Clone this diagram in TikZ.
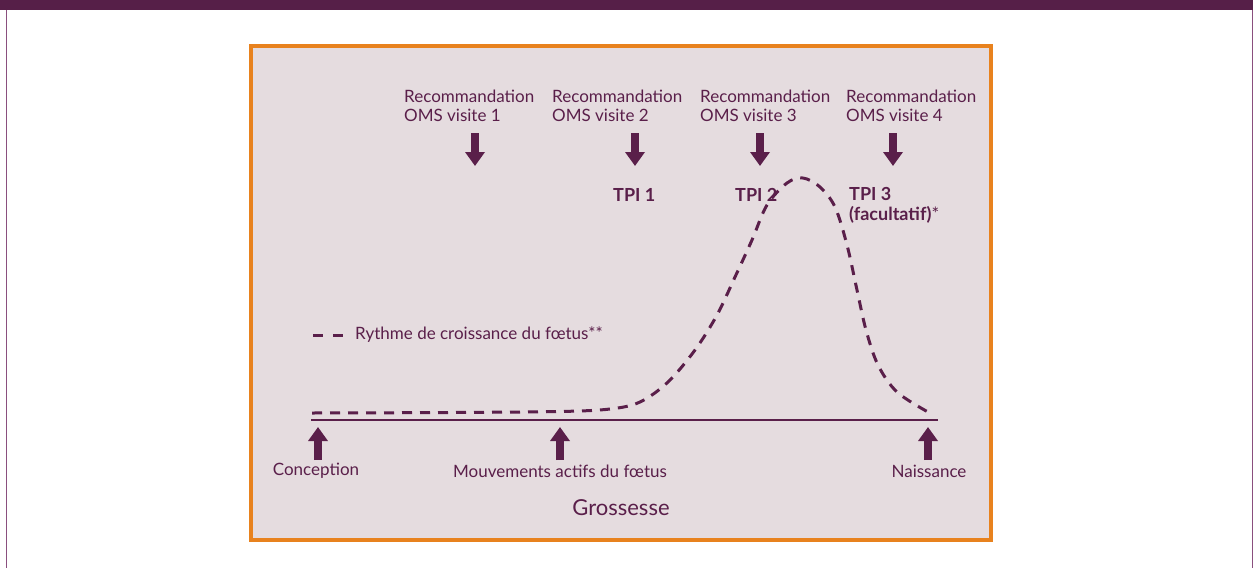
\documentclass[tikz,border=0pt]{standalone}
\usepackage{fontspec}
\setmainfont{Lato}
\usetikzlibrary{arrows.meta}

\definecolor{prune}{HTML}{5A1F4A}
\definecolor{bande}{HTML}{561F48}
\definecolor{fond}{HTML}{E5DCDF}
\definecolor{cadre}{HTML}{E8821E}
\definecolor{bord}{HTML}{8A4F7E}

\tikzset{
  etiq/.style={text=prune, font=\fontsize{17}{19}\selectfont, align=left, inner sep=0pt},
  tpi/.style={text=prune, font=\bfseries\fontsize{18}{20}\selectfont, align=left, inner sep=0pt},
  fleche/.style={draw=prune, line width=8pt, -{Triangle[width=19pt,length=14pt]}},
  courbe/.style={draw=prune, line width=3pt, dash pattern=on 10pt off 8pt},
}

\begin{document}
\begin{tikzpicture}[x=1pt,y=-1pt]
  \useasboundingbox (0,0) rectangle (1253,568);
  % bandeau et bords
  \fill[bande] (0,0) rectangle (1253,10);
  \draw[bord, line width=1pt] (6,10) -- (6,568);
  \draw[bord, line width=1pt] (1252,10) -- (1252,568);
  \draw[cadre, line width=3.5pt, fill=fond] (251,46) rectangle (991,540);

  % visites OMS
  \node[etiq, anchor=west] (v1) at (404,106) {Recommandation\\OMS visite 1};
  \node[etiq, anchor=west] (v2) at (552,106) {Recommandation\\OMS visite 2};
  \node[etiq, anchor=west] (v3) at (700,106) {Recommandation\\OMS visite 3};
  \node[etiq, anchor=west] (v4) at (846,106) {Recommandation\\OMS visite 4};
  \coordinate (h1) at (475,133); \coordinate (b1) at (475,166);
  \coordinate (h2) at (635,133); \coordinate (b2) at (635,166);
  \coordinate (h3) at (760,133); \coordinate (b3) at (760,166);
  \coordinate (h4) at (893,133); \coordinate (b4) at (893,166);
  \draw[fleche] (h1) -- (b1);
  \draw[fleche] (h2) -- (b2);
  \draw[fleche] (h3) -- (b3);
  \draw[fleche] (h4) -- (b4);

  % TPI
  \node[tpi, anchor=west] (t1) at (613,195) {TPI 1};
  \node[tpi, anchor=west] (t2) at (735,195) {TPI 2};
  \node[tpi, anchor=west] (t3) at (849,205) {TPI 3\\(facultatif){\mdseries *}};

  % legende
  \coordinate (l1) at (313,335); \coordinate (l2) at (344,335);
  \draw[courbe, dash pattern=on 10pt off 10pt] (l1) -- (l2);
  \node[etiq, anchor=west] (leg) at (355,335) {Rythme de croissance du fœtus**};

  % croissance
  \draw[courbe] plot[smooth, tension=0.55] coordinates {
    (312,413) (450,412.5) (560,411.5) (610,409) (640,402) (668,382)
    (695,350) (717,315) (735,277) (752,240) (767,205) (787,183)
    (803,178) (820,187) (835,207) (847,245) (857,290) (866,330)
    (878,365) (897,392) (928,412)};

  % axe de la grossesse
  \coordinate (debut) at (311,420);
  \coordinate (fin) at (938,420);
  \draw[prune, line width=2.8pt] (debut) -- (fin);
  \coordinate (a1) at (318,460); \coordinate (c1) at (318,427);
  \coordinate (a2) at (560,460); \coordinate (c2) at (560,427);
  \coordinate (a3) at (928,460); \coordinate (c3) at (928,427);
  \draw[fleche] (a1) -- (c1);
  \draw[fleche] (a2) -- (c2);
  \draw[fleche] (a3) -- (c3);
  \node[etiq] (conc) at (316,471) {Conception};
  \node[etiq] (mouv) at (560,471) {Mouvements actifs du fœtus};
  \node[etiq] (nais) at (929,471) {Naissance};
  \node[etiq, font=\fontsize{22}{24}\selectfont] (gros) at (621,508) {Grossesse};
\end{tikzpicture}
\end{document}
